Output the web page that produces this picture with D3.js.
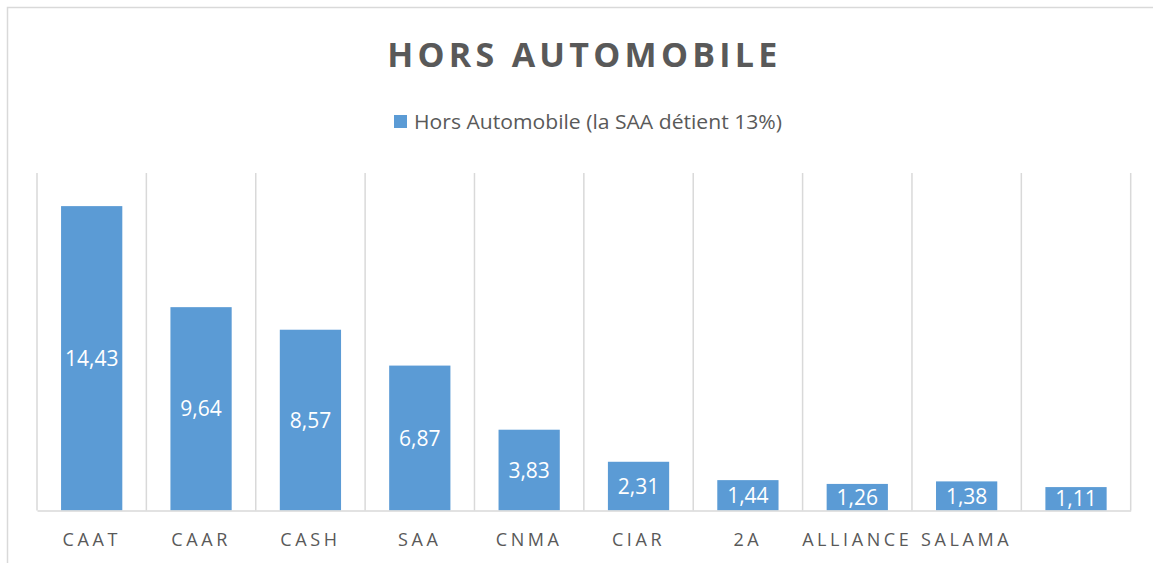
<!DOCTYPE html>
<html>
<head>
<meta charset="utf-8">
<script src="https://cdn.jsdelivr.net/npm/d3@7"></script>
<style>
  body { margin: 0; background: #fff; }
  text { font-family: "Open Sans", "Noto Sans", sans-serif; }
</style>
</head>
<body>
<script>
// Chart data
const categories = ["CAAT", "CAAR", "CASH", "SAA", "CNMA", "CIAR", "2A", "ALLIANCE", "SALAMA", ""];
const values = [14.43, 9.64, 8.57, 6.87, 3.83, 2.31, 1.44, 1.26, 1.38, 1.11];
const titleText = "HORS AUTOMOBILE";
const legendText = "Hors Automobile (la SAA détient 13%)";

const W = 1153, H = 563;
const margin = { top: 173, bottom: 52.5, left: 37, right: 22.3 };
const width = W - margin.left - margin.right;
const height = H - margin.top - margin.bottom;

const blue = "#5B9BD5";
const grey = "#D9D9D9";
const textGrey = "#595959";

const svg = d3.select("body")
  .append("svg")
  .attr("width", W)
  .attr("height", H);

// outer chart frame (runs off the right and bottom edges)
svg.append("rect")
  .attr("x", 7.5).attr("y", 7.5)
  .attr("width", W + 50).attr("height", H + 50)
  .attr("fill", "#fff")
  .attr("stroke", grey)
  .attr("stroke-width", 1.5);

// title
svg.append("text")
  .attr("x", 582.3).attr("y", 67.3)
  .attr("text-anchor", "middle")
  .attr("font-size", 34)
  .attr("font-weight", 700)
  .attr("fill", textGrey)
  .attr("textLength", 390)
  .attr("lengthAdjust", "spacing")
  .text(titleText);

// legend
const legend = svg.append("g").attr("transform", "translate(394,115)");
legend.append("rect")
  .attr("width", 13).attr("height", 13)
  .attr("fill", blue);
legend.append("text")
  .attr("x", 20).attr("y", 14)
  .attr("font-size", 19.5)
  .attr("fill", textGrey)
  .attr("textLength", 368)
  .attr("lengthAdjust", "spacingAndGlyphs")
  .text(legendText);

const g = svg.append("g").attr("transform", `translate(${margin.left},${margin.top})`);

// scales
const x = d3.scaleBand()
  .domain(d3.range(categories.length))
  .range([0, width])
  .paddingInner(0.44)
  .paddingOuter(0.22);
const y = d3.scaleLinear().domain([0, 16]).range([height, 0]);

// vertical gridlines at category boundaries
const step = x.step();
g.selectAll(".grid")
  .data(d3.range(categories.length + 1))
  .join("line")
  .attr("class", "grid")
  .attr("x1", (d) => d * step * (width / (step * categories.length)))
  .attr("x2", (d) => d * step * (width / (step * categories.length)))
  .attr("y1", y(16))
  .attr("y2", height)
  .attr("stroke", grey)
  .attr("stroke-width", 1.5);

// bars
g.selectAll(".bar")
  .data(values)
  .join("rect")
  .attr("class", "bar")
  .attr("x", (d, i) => x(i))
  .attr("width", x.bandwidth())
  .attr("y", (d) => y(d))
  .attr("height", (d) => height - y(d))
  .attr("fill", blue);

// data labels centred in the bars
g.selectAll(".lbl")
  .data(values)
  .join("text")
  .attr("class", "lbl")
  .attr("x", (d, i) => x(i) + x.bandwidth() / 2)
  .attr("y", (d) => (y(d) + height) / 2)
  .attr("dy", "0.36em")
  .attr("text-anchor", "middle")
  .attr("font-size", 21)
  .attr("fill", "#fff")
  .text((d) => d.toFixed(2).replace(".", ","));

// x axis
const xAxis = g.append("g")
  .attr("transform", `translate(0,${height})`)
  .call(d3.axisBottom(x).tickSize(0).tickPadding(0).tickFormat((i) => categories[i]));
xAxis.select(".domain").attr("stroke", grey).attr("stroke-width", 1.5);
xAxis.selectAll("text")
  .attr("y", 35)
  .attr("dy", 0)
  .attr("font-size", 18)
  .attr("font-family", "'Open Sans', sans-serif")
  .attr("fill", textGrey)
  .style("letter-spacing", "3.6px");
</script>
</body>
</html>
